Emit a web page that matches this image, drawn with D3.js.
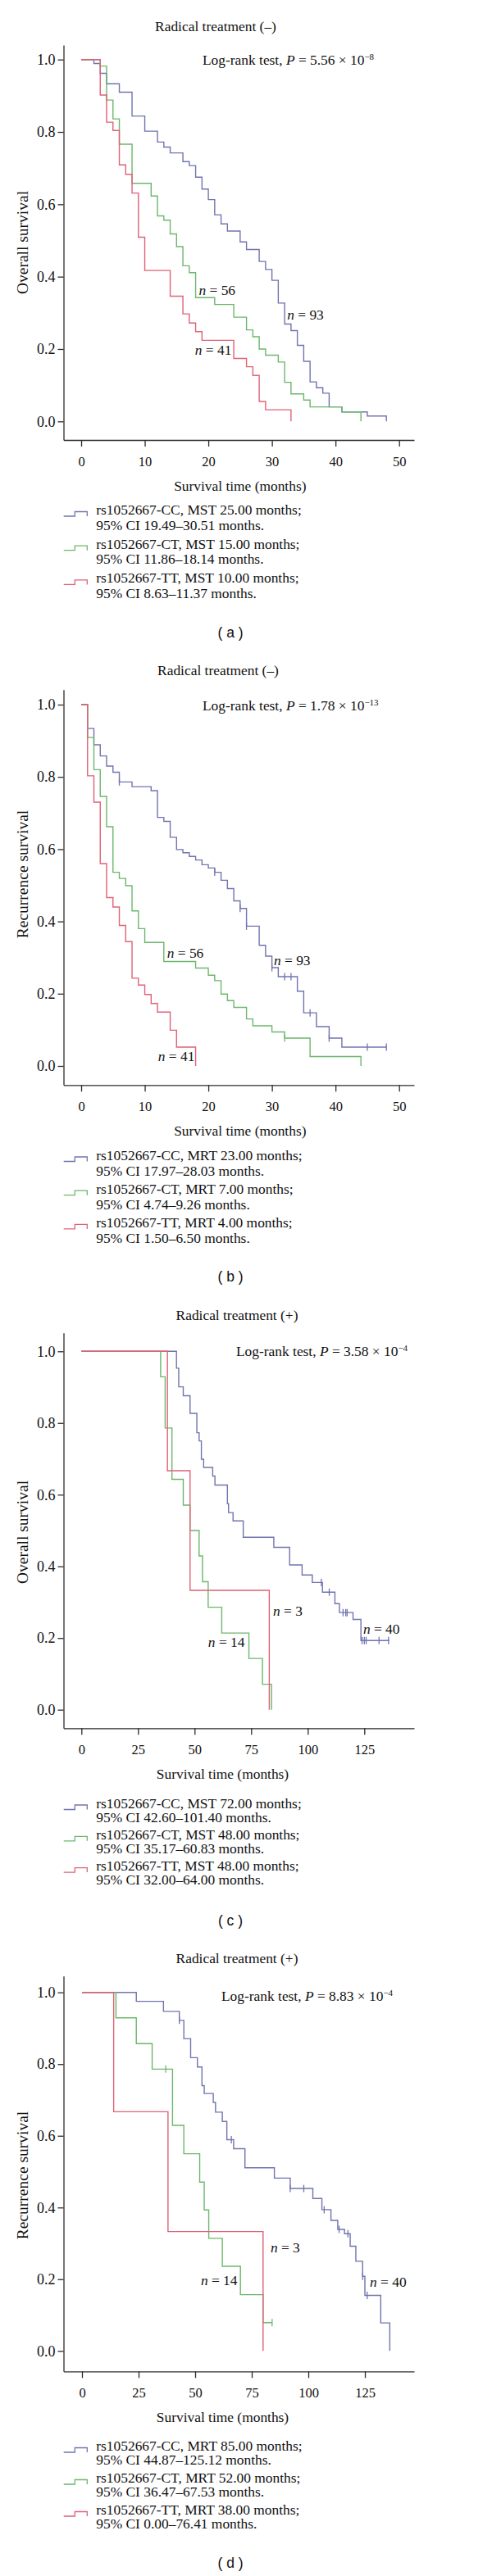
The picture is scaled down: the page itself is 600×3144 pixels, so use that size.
<!DOCTYPE html>
<head>
<meta charset="utf-8">
<title>Kaplan-Meier curves rs1052667</title>
<script src="https://cdn.jsdelivr.net/npm/d3@7"></script>
<style>
    body { margin: 0; background: #fff; }
    /* AXES */
    .axis path, .axis line {
    stroke: #2b2b2b;
    stroke-width: 1.3;
    fill: none;
    }
    .axis text {
    fill: #111;
    font-family: "Liberation Serif", "Times New Roman", serif;
    }
    .yaxis text { font-size: 18px; }
    .xaxis text { font-size: 16.5px; }
    .lbl {
    fill: #111;
    font-family: "Liberation Serif", "Times New Roman", serif;
    font-size: 17.4px;
    }
    .ylab { font-size: 19.5px; }
    .tag {
    fill: #111;
    font-family: "Liberation Sans", Arial, sans-serif;
    font-size: 17.5px;
    }
    .km { fill: none; stroke-width: 1.4; }
</style>
</head>
<body>
<div id="container"></div>
<script>
//-----------------------------DATA-----------------------------//
// steps are [month, survival]
var yTicks = [0, 0.2, 0.4, 0.6, 0.8, 1.0];
var xTicksNeg = [0, 10, 20, 30, 40, 50];
var xTicksPos = [0, 25, 50, 75, 100, 125];
var colors = ["#7174b0", "#6cb76c", "#df6276"];

// (a) overall survival, radical treatment (-)
var osNegCC = [[0,1],[2,0.989],[3,0.962],[4,0.933],[6,0.91],[8,0.844],[10,0.802],[12,0.772],[13,0.758],[14,0.742],[16,0.718],[17,0.707],[18,0.675],[19,0.642],[20,0.613],[21,0.571],[22,0.546],[23,0.526],[25,0.496],[26,0.475],[28,0.442],[29,0.42],[30,0.39],[31,0.327],[32,0.269],[33,0.251],[34,0.21],[35,0.166],[36,0.109],[37,0.093],[38,0.078],[39,0.04],[41,0.026],[45,0.015],[48,0]];
var osNegCT = [[0,1],[3,0.982],[4,0.888],[5,0.836],[6,0.766],[8,0.658],[11,0.623],[12,0.568],[13,0.556],[14,0.518],[15,0.483],[16,0.43],[17,0.411],[18,0.342],[21,0.323],[24,0.288],[26,0.253],[27,0.234],[28,0.2],[29,0.183],[31,0.164],[32,0.108],[33,0.076],[35,0.059],[36,0.04],[41,0.026],[44,0]];
var osNegTT = [[0,1],[3,0.902],[4,0.827],[5,0.804],[6,0.709],[7,0.683],[8,0.631],[9,0.509],[10,0.417],[14,0.346],[16,0.297],[17,0.272],[18,0.248],[19,0.224],[24,0.174],[26,0.151],[27,0.127],[28,0.055],[29,0.032],[33,0]];

// (b) recurrence survival, radical treatment (-)
var rfsNegCC = [[0,1],[1,0.934],[2,0.889],[3,0.858],[4,0.83],[5,0.813],[6,0.786],[8,0.773],[11,0.762],[12,0.688],[13,0.677],[14,0.633],[15,0.599],[16,0.59],[17,0.58],[18,0.57],[19,0.557],[20,0.548],[21,0.536],[22,0.514],[23,0.491],[24,0.457],[25,0.436],[26,0.387],[28,0.334],[29,0.304],[30,0.272],[31,0.247],[34,0.207],[35,0.147],[37,0.109],[39,0.077],[41,0.052],[48,0.052]];
var rfsNegCCCens = [6, 21, 25, 26, 30, 32, 33, 36, 39, 45, 48];
var rfsNegCT = [[0,1],[1,0.909],[2,0.82],[3,0.746],[4,0.662],[5,0.536],[6,0.519],[7,0.499],[8,0.429],[9,0.38],[10,0.342],[13,0.289],[18,0.271],[20,0.251],[21,0.236],[22,0.199],[23,0.181],[24,0.162],[26,0.13],[27,0.111],[30,0.094],[32,0.077],[36,0.026],[44,0]];
var rfsNegCTCens = [32];
var rfsNegTT = [[0,1],[1,0.803],[2,0.73],[3,0.56],[4,0.466],[5,0.44],[6,0.389],[7,0.344],[8,0.243],[9,0.224],[10,0.198],[11,0.173],[12,0.149],[14,0.099],[15,0.052],[18,0]];

// (c) overall survival, radical treatment (+)
var osPosCC = [[0,1],[42,0.953],[43,0.901],[45,0.876],[48,0.827],[51,0.773],[52,0.75],[53,0.699],[54,0.676],[58,0.652],[59,0.627],[64.5,0.575],[65,0.55],[67,0.527],[71.5,0.481],[85,0.453],[92,0.404],[97.5,0.376],[102,0.355],[106.5,0.328],[112,0.296],[114,0.271],[120,0.252],[123.5,0.193],[136,0.193]];
var osPosCCCens = [106, 109.5, 115.6, 116.8, 117.4, 124, 125, 125.8, 131.5, 135.7];
var osPosCT = [[0,1],[35,0.929],[37,0.786],[40,0.643],[45,0.571],[48,0.5],[52,0.429],[53.5,0.357],[56,0.286],[62,0.214],[74,0.143],[80,0.071],[84,0]];
var osPosTT = [[0,1],[38,0.667],[48,0.333],[83,0]];

// (d) recurrence survival, radical treatment (+)
var rfsPosCC = [[0,1],[24,0.975],[36,0.947],[43,0.922],[45,0.871],[48,0.818],[51,0.792],[53,0.74],[54,0.718],[58,0.693],[59,0.666],[62,0.64],[64,0.589],[67,0.564],[72,0.511],[85,0.482],[92,0.453],[102,0.425],[106,0.394],[110,0.364],[113,0.339],[116,0.327],[118.5,0.292],[121,0.25],[124,0.208],[125,0.155],[132,0.078],[136,0]];
var rfsPosCCCens = [43, 66, 92, 98, 107, 113.6, 117.5, 124, 126];
var rfsPosCT = [[0,1],[15,0.929],[24,0.857],[31,0.786],[40,0.629],[45,0.55],[52,0.471],[54,0.393],[56,0.314],[62,0.236],[70,0.157],[80,0.079],[84,0.079]];
var rfsPosCTCens = [37, 84];
var rfsPosTT = [[0,1],[14,0.667],[38,0.333],[80,0]];

// legend texts
var osNegLegend = [["rs1052667-CC, MST 25.00 months;", "95% CI 19.49\u201330.51 months."],
                   ["rs1052667-CT, MST 15.00 months;", "95% CI 11.86\u201318.14 months."],
                   ["rs1052667-TT, MST 10.00 months;", "95% CI 8.63\u201311.37 months."]];
var rfsNegLegend = [["rs1052667-CC, MRT 23.00 months;", "95% CI 17.97\u201328.03 months."],
                    ["rs1052667-CT, MRT 7.00 months;", "95% CI 4.74\u20139.26 months."],
                    ["rs1052667-TT, MRT 4.00 months;", "95% CI 1.50\u20136.50 months."]];
var osPosLegend = [["rs1052667-CC, MST 72.00 months;", "95% CI 42.60\u2013101.40 months."],
                   ["rs1052667-CT, MST 48.00 months;", "95% CI 35.17\u201360.83 months."],
                   ["rs1052667-TT, MST 48.00 months;", "95% CI 32.00\u201364.00 months."]];
var rfsPosLegend = [["rs1052667-CC, MRT 85.00 months;", "95% CI 44.87\u2013125.12 months."],
                    ["rs1052667-CT, MRT 52.00 months;", "95% CI 36.47\u201367.53 months."],
                    ["rs1052667-TT, MRT 38.00 months;", "95% CI 0.00\u201376.41 months."]];

// n = labels: [text, month, survival] (where the label starts)
var osNegNotes = [["56", 18.5, 0.363], ["93", 32.4, 0.295], ["41", 17.9, 0.198]];
var rfsNegNotes = [["56", 13.5, 0.314], ["93", 30.3, 0.293], ["41", 12.1, 0.027]];
var osPosNotes = [["3", 84.7, 0.277], ["40", 124.5, 0.226], ["14", 56, 0.19]];
var rfsPosNotes = [["3", 83.3, 0.288], ["14", 52.5, 0.198], ["40", 127.2, 0.193]];

//------------------------------LAYOUT---------------------------//
var panels = [
  {tag: "a", top: 0, title: "Radical treatment (\u2013)", yLabel: "Overall survival",
   p: "5.56", pExp: "\u22128", xTicks: xTicksNeg,
   series: [osNegCC, osNegCT, osNegTT], cens: [[], [], []], legend: osNegLegend, notes: osNegNotes,
   y1: 72.7, y0: 514.3, axisTop: 55, xAxisY: 537, x0: 99, xLast: 486.7,
   titleX: 263, titleY: 31.7, pX: 247, pY: 73.3, yLabelY: 296, xLabelX: 292.8, xLabelY: 592.7,
   legY: 622, legInner: 18.5, legStep: 41.7, tagY: 771.7},
  {tag: "b", top: 786, title: "Radical treatment (\u2013)", yLabel: "Recurrence survival",
   p: "1.78", pExp: "\u221213", xTicks: xTicksNeg,
   series: [rfsNegCC, rfsNegCT, rfsNegTT], cens: [rfsNegCCCens, rfsNegCTCens, []], legend: rfsNegLegend, notes: rfsNegNotes,
   y1: 74, y0: 515, axisTop: 55.7, xAxisY: 538.3, x0: 99, xLast: 486.7,
   titleX: 266, titleY: 32.3, pX: 247, pY: 74.7, yLabelY: 281, xLabelX: 292.8, xLabelY: 594,
   legY: 623.5, legInner: 19, legStep: 41.2, tagY: 772.3},
  {tag: "c", top: 1572, title: "Radical treatment (+)", yLabel: "Overall survival",
   p: "3.58", pExp: "\u22124", xTicks: xTicksPos,
   series: [osPosCC, osPosCT, osPosTT], cens: [osPosCCCens, [], []], legend: osPosLegend, notes: osPosNotes,
   y1: 77.3, y0: 514.7, axisTop: 54.7, xAxisY: 537.3, x0: 99.3, xLast: 444.3,
   titleX: 289, titleY: 33, pX: 288, pY: 77, yLabelY: 298, xLabelX: 271.5, xLabelY: 593,
   legY: 628.5, legInner: 17.2, legStep: 38.3, tagY: 772.3},
  {tag: "d", top: 2358, title: "Radical treatment (+)", yLabel: "Recurrence survival",
   p: "8.83", pExp: "\u22124", xTicks: xTicksPos,
   series: [rfsPosCC, rfsPosCT, rfsPosTT], cens: [rfsPosCCCens, rfsPosCTCens, []], legend: rfsPosLegend, notes: rfsPosNotes,
   y1: 73.7, y0: 511.3, axisTop: 53.7, xAxisY: 536.3, x0: 100, xLast: 445,
   titleX: 289, titleY: 32, pX: 270, pY: 78, yLabelY: 297, xLabelX: 271.5, xLabelY: 592,
   legY: 627, legInner: 17.3, legStep: 39, tagY: 770.3}
];

var axisX = 77.5, axisRight = 505;

var svg = d3.select("div#container").append("svg")
    .attr("width", 600)
    .attr("height", 3144);

// survival level at time t (step function)
function levelAt(pts, t) {
  var s = pts[0][1];
  pts.forEach(function(p) { if (p[0] <= t) s = p[1]; });
  return s;
}

panels.forEach(function(cfg) {
  var g = svg.append("g").attr("transform", "translate(0," + cfg.top + ")");

  //----------------------------SCALES----------------------------//
  var x = d3.scaleLinear().domain([0, cfg.xTicks[cfg.xTicks.length - 1]]).range([cfg.x0, cfg.xLast]);
  x.domain([x.invert(axisX), x.invert(axisRight)]).range([axisX, axisRight]);
  var y = d3.scaleLinear().domain([0, 1]).range([cfg.y0, cfg.y1]);
  y.domain([y.invert(cfg.xAxisY), y.invert(cfg.axisTop)]).range([cfg.xAxisY, cfg.axisTop]);

  //-----------------------------AXES-----------------------------//
  g.append("g")
    .attr("class", "axis yaxis")
    .attr("transform", "translate(" + axisX + ",0)")
    .call(d3.axisLeft(y).tickValues(yTicks).tickFormat(d3.format(".1f"))
      .tickSize(7).tickSizeOuter(0).tickPadding(3));

  g.append("g")
    .attr("class", "axis xaxis")
    .attr("transform", "translate(0," + cfg.xAxisY + ")")
    .call(d3.axisBottom(x).tickValues(cfg.xTicks).tickFormat(d3.format("d"))
      .tickSize(8).tickSizeOuter(0).tickPadding(12));

  //----------------------------LINES-----------------------------//
  var line = d3.line()
    .x(function(d) { return x(d[0]); })
    .y(function(d) { return y(d[1]); })
    .curve(d3.curveStepAfter);

  cfg.series.forEach(function(pts, i) {
    g.append("path")
      .datum(pts)
      .attr("class", "km")
      .attr("stroke", colors[i])
      .attr("d", line);

    // censoring ticks
    g.selectAll(".cens-" + i)
      .data(cfg.cens[i])
      .enter().append("line")
      .attr("class", "cens-" + i)
      .attr("x1", function(t) { return x(t); })
      .attr("x2", function(t) { return x(t); })
      .attr("y1", function(t) { return y(levelAt(pts, t)) - 4.5; })
      .attr("y2", function(t) { return y(levelAt(pts, t)) + 4.5; })
      .attr("stroke", colors[i])
      .attr("stroke-width", 1.3);
  });

  //----------------------------TEXTS-----------------------------//
  g.append("text").attr("class", "lbl")
    .attr("x", cfg.titleX).attr("y", cfg.titleY).attr("dy", "0.35em")
    .attr("text-anchor", "middle")
    .text(cfg.title);

  var pt = g.append("text").attr("class", "lbl")
    .attr("x", cfg.pX).attr("y", cfg.pY).attr("dy", "0.35em");
  pt.append("tspan").text("Log-rank test, ");
  pt.append("tspan").attr("font-style", "italic").text("P");
  pt.append("tspan").text(" = " + cfg.p + " \u00d7 10");
  pt.append("tspan").attr("font-size", "11px").attr("dy", "-0.55em").text(cfg.pExp);

  g.append("text").attr("class", "lbl ylab")
    .attr("transform", "translate(27," + cfg.yLabelY + ") rotate(-90)")
    .attr("dy", "0.35em")
    .attr("text-anchor", "middle")
    .text(cfg.yLabel);

  g.append("text").attr("class", "lbl")
    .attr("x", cfg.xLabelX).attr("y", cfg.xLabelY).attr("dy", "0.35em")
    .attr("text-anchor", "middle")
    .text("Survival time (months)");

  cfg.notes.forEach(function(n) {
    var t = g.append("text").attr("class", "lbl")
      .attr("x", x(n[1])).attr("y", y(n[2])).attr("dy", "0.35em");
    t.append("tspan").attr("font-style", "italic").text("n");
    t.append("tspan").text(" = " + n[0]);
  });

  //--Legend--//
  cfg.legend.forEach(function(lines, i) {
    var ly = cfg.legY + i * cfg.legStep;
    var low = ly + 8, sx = 77.7;
    g.append("path")
      .attr("d", "M" + sx + "," + low + "H" + (sx + 13.6) + "V" + (low - 5.5) + "H" + (sx + 28.6) + "V" + low)
      .attr("fill", "none")
      .attr("stroke", colors[i])
      .attr("stroke-width", 1.3);
    lines.forEach(function(s, j) {
      g.append("text").attr("class", "lbl")
        .attr("x", 117.3).attr("y", ly + j * cfg.legInner).attr("dy", "0.35em")
        .text(s);
    });
  });

  g.append("text").attr("class", "tag")
    .attr("x", 281).attr("y", cfg.tagY).attr("dy", "0.35em")
    .attr("text-anchor", "middle")
    .attr("xml:space", "preserve")
    .text("( " + cfg.tag + " )");
});
</script>
</body>
